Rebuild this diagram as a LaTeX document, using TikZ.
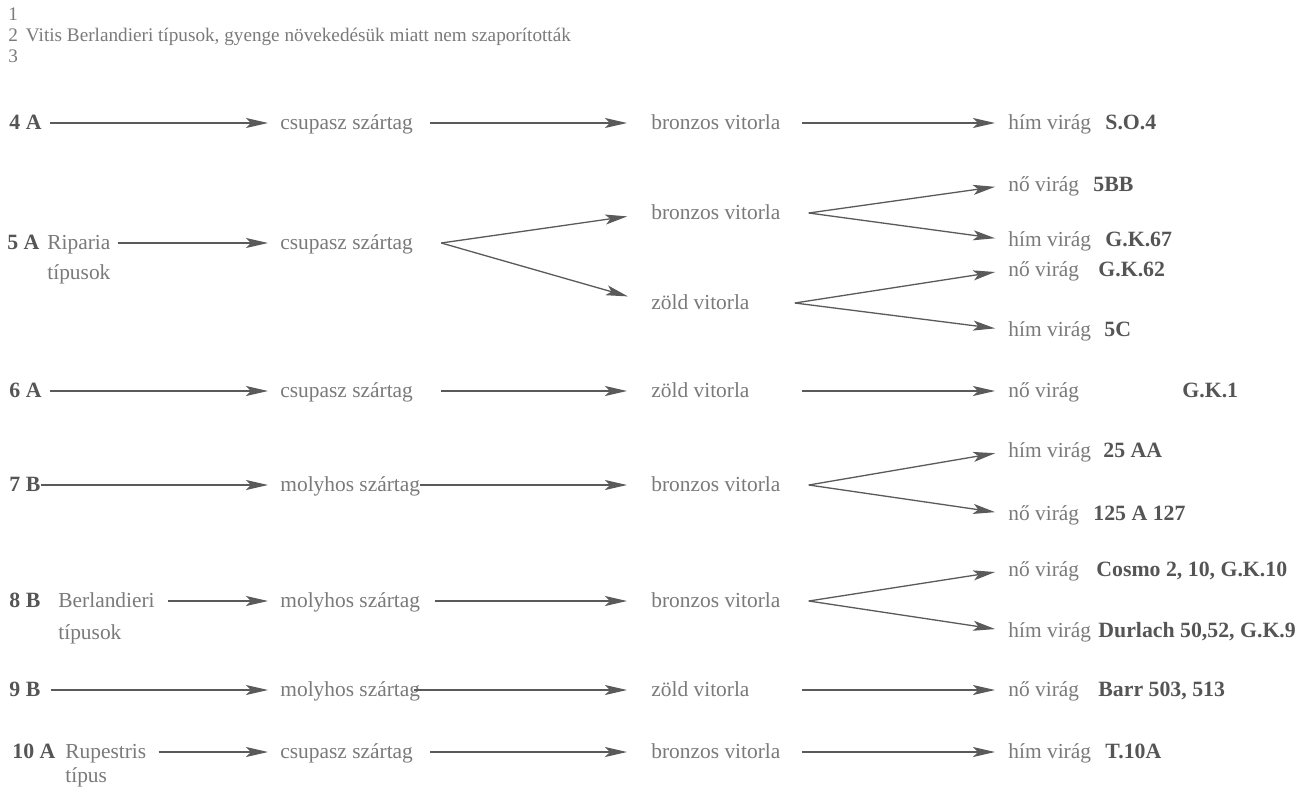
\documentclass[tikz,border=0pt]{standalone}
\usepackage{fontspec}
\setmainfont{Liberation Serif}
\usetikzlibrary{arrows.meta}
\definecolor{txtgray}{HTML}{7A7A7A}
\definecolor{codegray}{HTML}{555555}
\definecolor{linegray}{HTML}{5A5A5A}
\tikzset{
  lbl/.style={anchor=west, inner sep=0pt, text height=8pt, text depth=2pt, text=txtgray, font=\fontsize{10.7}{13}\selectfont},
  num/.style={lbl, text=codegray, font=\fontsize{10.9}{13}\selectfont\bfseries},
  hdr/.style={lbl, font=\fontsize{9.6}{11}\selectfont},
  arr/.style={draw=linegray, line width=0.65pt, -{Stealth[length=11pt,width=5pt,inset=2.5pt]}},
}
\begin{document}
\begin{tikzpicture}[x=0.5pt,y=-0.5pt]
\fill[white] (0,0) rectangle (1304,787);
\useasboundingbox (0,0) rectangle (1304,787);

% header lines
\node[hdr] (h1) at (8,14) {1};
\node[hdr] (h2) at (8,35) {2\hspace{4pt}Vitis Berlandieri típusok, gyenge növekedésük miatt nem szaporították};
\node[hdr] (h3) at (8,56) {3};

% 4 A
\node[num] (n4) at (9,123) {4 A};
\node[lbl] (c4) at (280,123) {csupasz szártag};
\node[lbl] (v4) at (651,123) {bronzos vitorla};
\node[lbl] (f4) at (1008,123) {hím virág};
\node[num] (k4) at (1105,123) {S.O.4};
\draw[arr, shorten <=4pt, shorten >=6pt] (n4) -- (c4);
\draw[arr, shorten <=8.5pt, shorten >=12pt] (c4) -- (v4);
\draw[arr, shorten <=10.5pt, shorten >=6.5pt] (v4) -- (f4);

% 5 A
\node[num] (n5) at (7,243) {5 A};
\node[lbl] (t5) at (47,243) {Riparia};
\node[lbl] (u5) at (47,273) {típusok};
\node[lbl] (c5) at (280,243) {csupasz szártag};
\node[lbl] (v5a) at (651,213) {bronzos vitorla};
\node[lbl] (v5b) at (651,303) {zöld vitorla};
\node[lbl] (f5a) at (1008,185) {nő virág};
\node[num] (k5a) at (1093,185) {5BB};
\node[lbl] (f5b) at (1008,240) {hím virág};
\node[num] (k5b) at (1105,240) {G.K.67};
\node[lbl] (f5c) at (1008,270) {nő virág};
\node[num] (k5c) at (1098,270) {G.K.62};
\node[lbl] (f5d) at (1008,330) {hím virág};
\node[num] (k5d) at (1104,330) {5C};
\coordinate (j5) at ([xshift=14pt]c5.east);
\coordinate (j5a) at ([xshift=14pt]v5a.east);
\coordinate (j5b) at ([xshift=22.5pt]v5b.east);
\draw[arr, shorten <=3.5pt, shorten >=6pt] (t5) -- (c5);
\draw[arr, shorten >=12pt] (j5) -- (v5a.west);
\draw[arr, shorten >=12pt] (j5) -- (v5b.west);
\draw[arr, shorten >=6.5pt] (j5a) -- (f5a.west);
\draw[arr, shorten >=6.5pt] (j5a) -- (f5b.west);
\draw[arr, shorten >=6.5pt] (j5b) -- (f5c.west);
\draw[arr, shorten >=6.5pt] (j5b) -- (f5d.west);

% 6 A
\node[num] (n6) at (9,391) {6 A};
\node[lbl] (c6) at (280,391) {csupasz szártag};
\node[lbl] (v6) at (651,391) {zöld vitorla};
\node[lbl] (f6) at (1008,391) {nő virág};
\node[num] (k6) at (1182,391) {G.K.1};
\draw[arr, shorten <=4pt, shorten >=6pt] (n6) -- (c6);
\draw[arr, shorten <=14pt, shorten >=12pt] (c6) -- (v6);
\draw[arr, shorten <=26pt, shorten >=6.5pt] (v6) -- (f6);

% 7 B
\node[num] (n7) at (9,485) {7 B};
\node[lbl] (c7) at (280,485) {molyhos szártag};
\node[lbl] (v7) at (651,485) {bronzos vitorla};
\node[lbl] (f7a) at (1008,451) {hím virág};
\node[num] (k7a) at (1103,451) {25 AA};
\node[lbl] (f7b) at (1008,514) {nő virág};
\node[num] (k7b) at (1093,514) {125 A 127};
\coordinate (j7) at ([xshift=14pt]v7.east);
\draw[arr, shorten >=6pt] (n7) -- (c7);
\draw[arr, shorten >=12pt] (c7) -- (v7);
\draw[arr, shorten >=6.5pt] (j7) -- (f7a.west);
\draw[arr, shorten >=6.5pt] (j7) -- (f7b.west);

% 8 B
\node[num] (n8) at (9,601) {8 B};
\node[lbl] (t8) at (58,601) {Berlandieri};
\node[lbl] (u8) at (58,633) {típusok};
\node[lbl] (c8) at (280,601) {molyhos szártag};
\node[lbl] (v8) at (651,601) {bronzos vitorla};
\node[lbl] (f8a) at (1008,570) {nő virág};
\node[num] (k8a) at (1096,570) {Cosmo 2, 10, G.K.10};
\node[lbl] (f8b) at (1008,631) {hím virág};
\node[num] (k8b) at (1098,631) {Durlach 50,52, G.K.9};
\coordinate (j8) at ([xshift=14pt]v8.east);
\draw[arr, shorten <=6.5pt, shorten >=6pt] (t8) -- (c8);
\draw[arr, shorten <=7.5pt, shorten >=12pt] (c8) -- (v8);
\draw[arr, shorten >=6.5pt] (j8) -- (f8a.west);
\draw[arr, shorten >=6.5pt] (j8) -- (f8b.west);

% 9 B
\node[num] (n9) at (9,690) {9 B};
\node[lbl] (c9) at (280,690) {molyhos szártag};
\node[lbl] (v9) at (651,690) {zöld vitorla};
\node[lbl] (f9) at (1008,690) {nő virág};
\node[num] (k9) at (1098,690) {Barr 503, 513};
\draw[arr, shorten <=5pt, shorten >=6pt] (n9) -- (c9);
\draw[arr, shorten <=-3pt, shorten >=12pt] (c9) -- (v9);
\draw[arr, shorten <=26pt, shorten >=6.5pt] (v9) -- (f9);

% 10 A
\node[num] (n10) at (12,752) {10 A};
\node[lbl] (t10) at (65,752) {Rupestris};
\node[lbl] (u10) at (65,776) {típus};
\node[lbl] (c10) at (280,752) {csupasz szártag};
\node[lbl] (v10) at (651,752) {bronzos vitorla};
\node[lbl] (f10) at (1008,752) {hím virág};
\node[num] (k10) at (1105,752) {T.10A};
\draw[arr, shorten <=6pt, shorten >=6pt] (t10) -- (c10);
\draw[arr, shorten <=8.5pt, shorten >=12pt] (c10) -- (v10);
\draw[arr, shorten <=10.5pt, shorten >=6.5pt] (v10) -- (f10);
\end{tikzpicture}
\end{document}
